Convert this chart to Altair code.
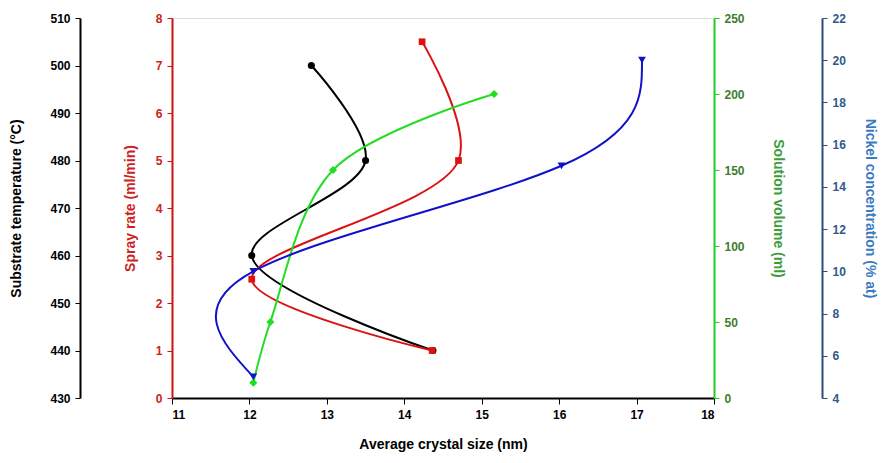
import altair as alt
import pandas as pd

# Average crystal size (nm) vs each parameter
size_temp = [14.37, 12.03, 13.50, 12.80]
temp = [440, 460, 480, 500]

size_spray = [14.36, 12.03, 14.70, 14.23]
spray = [1, 2.5, 5, 7.5]

size_vol = [12.05, 12.27, 13.08, 15.16]
vol = [10, 50, 150, 200]

size_ni = [12.05, 12.05, 16.03, 17.07]
ni = [5, 10, 15, 20]

x_ticks = [11, 12, 13, 14, 15, 16, 17, 18]
temp_ticks = [430, 440, 450, 460, 470, 480, 490, 500, 510]
spray_ticks = [0, 1, 2, 3, 4, 5, 6, 7, 8]
vol_ticks = [0, 50, 100, 150, 200, 250]
ni_ticks = [4, 6, 8, 10, 12, 14, 16, 18, 20, 22]

FONT = "Liberation Sans"

xenc = alt.X(
    "size:Q",
    scale=alt.Scale(domain=[11, 18], nice=False, zero=False),
    axis=alt.Axis(
        title="Average crystal size (nm)", values=x_ticks, format="d",
        domainColor="black", domainWidth=2, tickColor="black", tickSize=6,
        labelColor="black", titleColor="black", grid=False, labelPadding=5,
        labelFontSize=12, labelFontWeight="bold", titleFontSize=14,
        titleFontWeight="bold", labelFont=FONT, titleFont=FONT, titlePadding=17,
    ),
)


def series(xs, ys, title, domain, ticks, orient, offset, line_color,
           dom_color, lab_color, tit_color, shape, msize, tpad, interp):
    df = pd.DataFrame({"size": xs, "val": ys, "ord": list(range(len(xs)))})
    y = alt.Y(
        "val:Q",
        scale=alt.Scale(domain=domain, nice=False, zero=False),
        axis=alt.Axis(
            title=title, orient=orient, offset=offset, values=ticks, format="d",
            domainColor=dom_color, domainWidth=2, tickColor=dom_color, tickSize=5,
            labelColor=lab_color, titleColor=tit_color, grid=False,
            labelPadding=5,
            labelFontSize=12, labelFontWeight="bold", titleFontSize=14,
            titleFontWeight="bold", labelFont=FONT, titleFont=FONT,
            titlePadding=tpad,
        ),
    )
    return alt.Chart(df).mark_line(
        interpolate=interp, color=line_color, strokeWidth=2,
        point=alt.OverlayMarkDef(shape=shape, filled=True, size=msize,
                                 color=line_color, opacity=1),
    ).encode(x=xenc, y=y, order="ord:Q")


black = series(size_temp, temp, "Substrate temperature (°C)", [430, 510],
               temp_ticks, "left", 92, "black", "black", "black", "black",
               "circle", 50, 26, "catmull-rom")
red = series(size_spray, spray, "Spray rate (ml/min)", [0, 8], spray_ticks,
             "left", 0, "#dd1111", "#cc1111", "#cc2222", "#cc2222", "square",
             45, 18, "catmull-rom")
green = series(size_vol, vol, "Solution volume (ml)", [0, 250], vol_ticks,
               "right", 0, "#22dd22", "#22cc22", "#3d7d2d", "#3a9d3a",
               "diamond", 65, 26, "catmull-rom")
blue = series(size_ni, ni, "Nickel concentration (% at)", [4, 22], ni_ticks,
              "right", 108, "#1111cc", "#2a4d7a", "#2f5a8a", "#3b7bbf",
              "triangle-down", 60, 17, "natural")

chart = alt.layer(black, red, green, blue).resolve_scale(
    y="independent"
).properties(
    width=542, height=380,
    autosize=alt.AutoSizeParams(type="none"),
    padding={"left": 164, "top": 10, "right": 164, "bottom": 57},
).configure_view(stroke="black", strokeWidth=2).configure(background="white")

chart.save("out.html", embed_options={"renderer": "svg", "actions": False})
